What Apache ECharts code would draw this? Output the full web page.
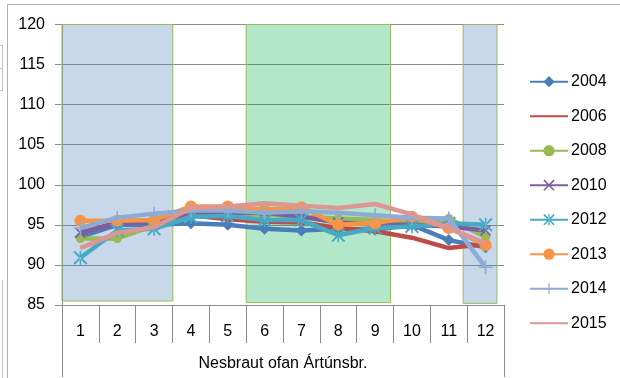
<!DOCTYPE html>
<html>
<head>
<meta charset="utf-8">
<script src="https://cdn.jsdelivr.net/npm/echarts@6/dist/echarts.min.js"></script>
<style>
  html, body { margin: 0; padding: 0; background: #fff; }
  #chart { width: 620px; height: 378px; }
</style>
</head>
<body>
<div id="chart"></div>
<script>
// Monthly index per year, Nesbraut ofan Ártúnsbr.
const months = ['1', '2', '3', '4', '5', '6', '7', '8', '9', '10', '11', '12'];
const groupLabel = ['Nesbraut ofan Ártúnsbr.'];
const years = ['2004', '2006', '2008', '2010', '2012', '2013', '2014', '2015'];

const y2004 = [93.5, 95.0, 95.0, 95.2, 95.0, 94.5, 94.3, 94.5, 94.4, 95.0, 93.1, 92.2];
const y2006 = [94.0, 95.3, 95.5, 96.2, 95.7, 95.4, 95.3, 94.6, 94.2, 93.4, 92.1, 92.6];
const y2008 = [93.3, 93.3, 94.9, 96.2, 96.3, 96.3, 96.0, 95.8, 95.6, 95.2, 95.8, 93.5];
const y2010 = [94.0, 95.2, 95.3, 96.5, 96.5, 96.5, 96.0, 95.3, 95.0, 95.0, 94.8, 94.3];
const y2012 = [90.9, 94.3, 94.5, 96.0, 96.1, 95.6, 95.6, 93.7, 94.6, 94.8, 95.2, 95.0];
const y2013 = [95.5, 95.5, 95.6, 97.3, 97.3, 96.9, 97.2, 95.0, 95.2, 96.0, 94.6, 92.5];
const y2014 = [94.6, 95.9, 96.4, 96.8, 96.8, 96.5, 96.7, 96.5, 96.2, 95.9, 95.8, 89.7];
const y2015 = [92.1, 94.0, 94.7, 97.1, 97.3, 97.7, 97.4, 97.1, 97.6, 96.3, 94.6, 92.7];

// Highlighted month ranges: [from, to, bottom, top] on the month scale
const bandWinter1 = [0.42, 3.51, 85.5, 120];
const bandSummer = [5.5, 9.42, 85.3, 120];
const bandWinter2 = [11.39, 12.31, 85.2, 120];

const yTicks = { min: 85, max: 120, interval: 5 };

const gray = '#8c8c8c';
const font = 'Liberation Sans';

const xShape = 'path://M0,1L1,0L5,4L9,0L10,1L6,5L10,9L9,10L5,6L1,10L0,9L4,5Z';
const starShape = 'path://M0,1L1,0L5,4L9,0L10,1L6,5L10,9L9,10L5,6L1,10L0,9L4,5Z M4.45,0L4.45,10L5.55,10L5.55,0Z';
const plusShape = 'path://M4.45,0H5.55V4.45H10V5.55H5.55V10H4.45V5.55H0V4.45H4.45Z';

const styles = [
  { data: y2004, color: '#4a7ebb', symbol: 'diamond', size: 12 },
  { data: y2006, color: '#be4b48', symbol: 'none', size: 0 },
  { data: y2008, color: '#98b954', symbol: 'circle', size: 9 },
  { data: y2010, color: '#7d5fa0', symbol: xShape, size: 11 },
  { data: y2012, color: '#46aac4', symbol: starShape, size: 14 },
  { data: y2013, color: '#f69546', symbol: 'circle', size: 12 },
  { data: y2014, color: '#8eabd6', symbol: plusShape, size: 14 },
  { data: y2015, color: '#dc9694', symbol: 'none', size: 0 }
];

const lineSeries = styles.map((s, i) => ({
  name: years[i],
  type: 'line',
  xAxisIndex: 0,
  yAxisIndex: 0,
  data: s.data,
  symbol: s.symbol,
  symbolSize: s.size,
  showSymbol: s.symbol !== 'none',
  color: s.color,
  lineStyle: { width: 4.5, color: s.color },
  itemStyle: { color: s.color },
  z: 2 + i * 0.01,
  animation: false
}));

// Legend entries: plain line for the series drawn without markers
const legendItems = styles.map((s, i) => (
  s.symbol === 'none'
    ? { name: years[i], itemStyle: { opacity: 0 } }
    : { name: years[i] }
));

function band(b, fill) {
  return [
    { coord: [b[0], b[2]], itemStyle: { color: fill, borderColor: '#9bbb59', borderWidth: 1 } },
    { coord: [b[1], b[3]] }
  ];
}

const bandSeries = {
  name: 'bands',
  type: 'line',
  xAxisIndex: 2,
  yAxisIndex: 0,
  data: [],
  z: 5,
  silent: true,
  animation: false,
  markArea: {
    silent: true,
    animation: false,
    data: [
      band(bandWinter1, 'rgba(79,129,189,0.31)'),
      band(bandSummer, 'rgba(0,176,80,0.30)'),
      band(bandWinter2, 'rgba(79,129,189,0.31)')
    ]
  }
};

const chart = echarts.init(document.getElementById('chart'), null, { renderer: 'canvas' });

chart.setOption({
  animation: false,
  backgroundColor: '#fff',
  textStyle: { fontFamily: font, color: '#000' },
  grid: {
    left: 62, right: 116, top: 24.5, bottom: 73,
    containLabel: false,
    outerBoundsMode: 'none'
  },
  legend: {
    data: legendItems,
    orient: 'vertical',
    left: 529,
    top: 73.7,
    padding: 0,
    itemWidth: 38,
    itemHeight: 14,
    itemGap: 18.5,
    textStyle: { fontFamily: font, fontSize: 16, color: '#000', lineHeight: 14, padding: [0, 0, 0, -2] },
    selectedMode: false
  },
  xAxis: [
    {
      type: 'category',
      data: months,
      position: 'bottom',
      offset: 0,
      boundaryGap: true,
      axisLine: { show: true, lineStyle: { color: gray, width: 1 } },
      axisTick: { show: true, length: 38, lineStyle: { color: gray, width: 1 } },
      axisLabel: { margin: 19, fontSize: 16, color: '#000', fontFamily: font },
      splitLine: { show: false }
    },
    {
      type: 'category',
      data: groupLabel,
      position: 'bottom',
      offset: 0,
      boundaryGap: true,
      axisLine: { show: false },
      axisTick: { show: true, length: 72, lineStyle: { color: gray, width: 1 } },
      axisLabel: { margin: 51, fontSize: 16, color: '#000', fontFamily: font },
      splitLine: { show: false }
    },
    {
      type: 'value',
      min: 0.5,
      max: 12.5,
      show: false,
      splitLine: { show: false }
    }
  ],
  yAxis: [
    {
      type: 'value',
      min: yTicks.min,
      max: yTicks.max,
      interval: yTicks.interval,
      axisLine: { show: true, lineStyle: { color: gray, width: 1 } },
      axisTick: { show: true, length: 7, lineStyle: { color: gray, width: 1 } },
      axisLabel: { margin: 17, fontSize: 16, color: '#000', fontFamily: font },
      splitLine: { show: true, lineStyle: { color: gray, width: 1 } }
    }
  ],
  graphic: [
    // chart frame
    { type: 'line', silent: true, shape: { x1: 7.5, y1: 4.5, x2: 620, y2: 4.5 }, style: { stroke: '#b0b0b0', lineWidth: 1 } },
    { type: 'line', silent: true, shape: { x1: 7.5, y1: 4.5, x2: 7.5, y2: 378 }, style: { stroke: '#b0b0b0', lineWidth: 1 } },
    { type: 'line', silent: true, shape: { x1: 2.5, y1: 45, x2: 2.5, y2: 90 }, style: { stroke: '#c0c0c0', lineWidth: 1 } },
    { type: 'line', silent: true, shape: { x1: 0, y1: 45.5, x2: 3, y2: 45.5 }, style: { stroke: '#c0c0c0', lineWidth: 1 } },
    { type: 'line', silent: true, shape: { x1: 0, y1: 68.5, x2: 3, y2: 68.5 }, style: { stroke: '#c0c0c0', lineWidth: 1 } },
    { type: 'line', silent: true, shape: { x1: 0, y1: 90.5, x2: 3, y2: 90.5 }, style: { stroke: '#c0c0c0', lineWidth: 1 } },
    { type: 'line', silent: true, shape: { x1: 2.5, y1: 280, x2: 2.5, y2: 378 }, style: { stroke: '#c0c0c0', lineWidth: 1 } }
  ],
  series: lineSeries.concat([bandSeries])
});
</script>
</body>
</html>
